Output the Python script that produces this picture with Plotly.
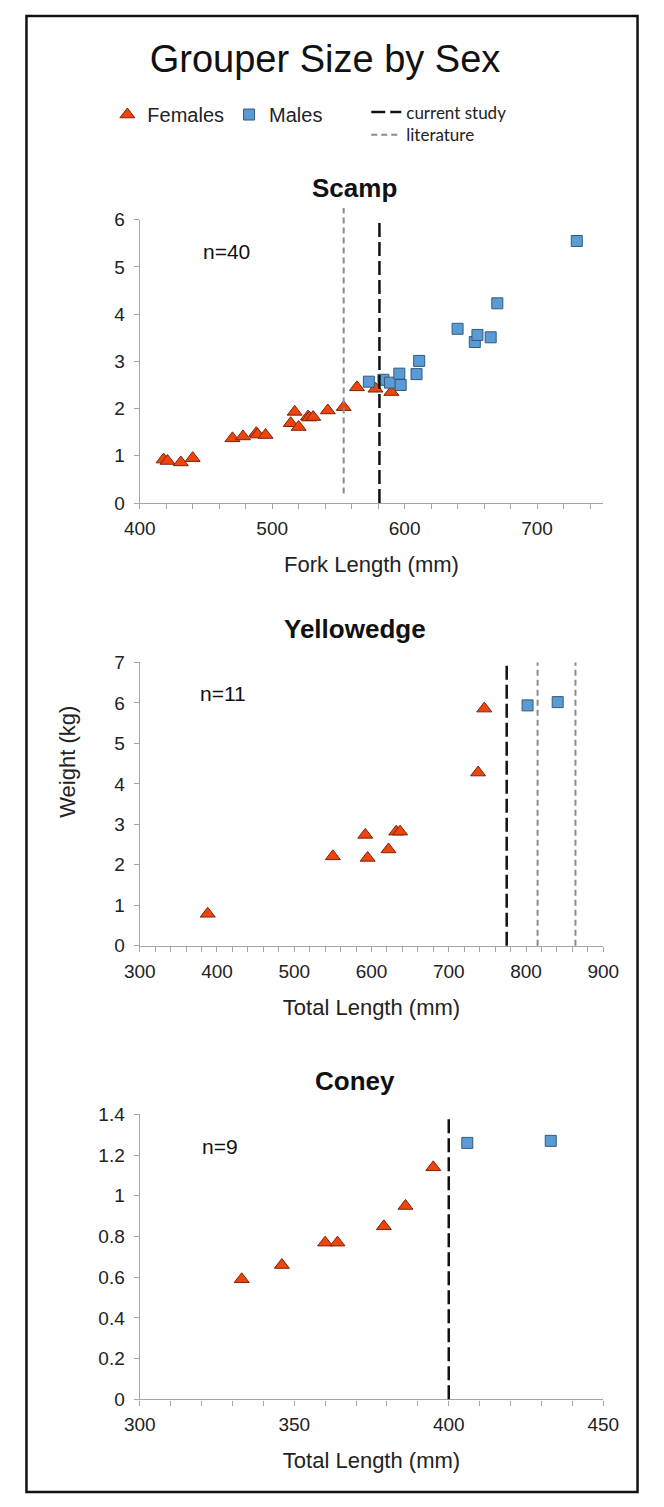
import plotly.graph_objects as go

# ---------------- data ----------------
main_title = "Grouper Size by Sex"
species = ["Scamp", "Yellowedge", "Coney"]
x_titles = ["Fork Length (mm)", "Total Length (mm)", "Total Length (mm)"]
y_title = "Weight (kg)"
n_labels = ["n=40", "n=11", "n=9"]

scamp_f_len = [418, 421, 431, 440, 470, 478, 488, 489, 495, 514, 517, 520, 527, 528, 531, 542, 554, 564, 578, 590]
scamp_f_wt = [0.92, 0.89, 0.86, 0.95, 1.37, 1.41, 1.48, 1.45, 1.44, 1.69, 1.93, 1.61, 1.83, 1.81, 1.82, 1.96, 2.03, 2.45, 2.42, 2.35]
scamp_m_len = [573, 584, 589, 596, 597, 609, 611, 640, 653, 655, 665, 670, 730]
scamp_m_wt = [2.57, 2.61, 2.55, 2.74, 2.50, 2.73, 3.01, 3.69, 3.41, 3.56, 3.51, 4.23, 5.55]

yellowedge_f_len = [388, 550, 592, 595, 622, 632, 637, 738, 746]
yellowedge_f_wt = [0.79, 2.21, 2.74, 2.17, 2.38, 2.82, 2.82, 4.28, 5.86]
yellowedge_m_len = [802, 841]
yellowedge_m_wt = [5.94, 6.02]

coney_f_len = [333, 346, 360, 364, 379, 386, 395]
coney_f_wt = [0.59, 0.66, 0.77, 0.77, 0.85, 0.95, 1.14]
coney_m_len = [406, 433]
coney_m_wt = [1.26, 1.27]

# size at sex change (mm)
current_study = [[581], [775], [400]]
literature = [[554], [815, 864], []]
# vertical extent of literature lines (kg)
literature_span = [[0.2, 6.25], [0, 7], [0, 0]]

x_ranges = [[400, 750], [300, 900], [300, 450]]
x_major = [100, 100, 50]
x_minor = [20, 20, 10]
y_ranges = [[0, 6], [0, 7], [0, 1.4]]
y_major = [1, 1, 0.2]

females = [(scamp_f_len, scamp_f_wt), (yellowedge_f_len, yellowedge_f_wt), (coney_f_len, coney_f_wt)]
males = [(scamp_m_len, scamp_m_wt), (yellowedge_m_len, yellowedge_m_wt), (coney_m_len, coney_m_wt)]

# ---------------- layout helpers ----------------
W, H = 664, 1507
FONT = "Liberation Sans, Arial, sans-serif"
LFONT = "Lato, Open Sans, sans-serif"

def px_x(p):
    return p / W

def px_y(p):
    return 1 - p / H

plot_left, plot_right = 130, 617
plot_tops = [212.7, 661.7, 1120]
plot_bottoms = [500, 949, 1409]
title_y = [181, 628, 1086]
n_pos = [(221, 245), (217, 693), (214, 1153)]

F_COLOR = "#F0440F"
F_LINE = "#7A2408"
M_COLOR = "#5B9BD5"
M_LINE = "#35597A"
AX_COLOR = "#A6A6A6"

fig = go.Figure()

for i in range(3):
    xa = "x" if i == 0 else f"x{i+1}"
    ya = "y" if i == 0 else f"y{i+1}"
    fx, fy = females[i]
    mx, my = males[i]
    fig.add_trace(go.Scatter(
        x=fx, y=fy, mode="markers", name="Females", xaxis=xa, yaxis=ya,
        legend="legend", showlegend=(i == 0), cliponaxis=False,
        marker=dict(symbol="triangle-up", size=13, color=F_COLOR,
                    line=dict(color=F_LINE, width=1))))
    fig.add_trace(go.Scatter(
        x=mx, y=my, mode="markers", name="Males", xaxis=xa, yaxis=ya,
        legend="legend", showlegend=(i == 0), cliponaxis=False,
        marker=dict(symbol="square", size=11, color=M_COLOR,
                    line=dict(color=M_LINE, width=1))))

    xkey = "xaxis" if i == 0 else f"xaxis{i+1}"
    ykey = "yaxis" if i == 0 else f"yaxis{i+1}"
    fig.update_layout({
        xkey: dict(
            domain=[px_x(plot_left), px_x(plot_right)], anchor=ya,
            range=x_ranges[i], dtick=x_major[i], tick0=x_ranges[i][0],
            showline=True, linecolor=AX_COLOR, linewidth=1.3,
            ticks="outside", ticklen=5, tickwidth=1.3, tickcolor=AX_COLOR,
            minor=dict(ticks="outside", ticklen=5, tickwidth=1.3, tickcolor=AX_COLOR,
                       dtick=x_minor[i], tick0=x_ranges[i][0], showgrid=False),
            showgrid=False, zeroline=False, ticklabelstandoff=3,
            tickfont=dict(size=19, color="#222", family=FONT),
            title=dict(text=x_titles[i], font=dict(size=22, color="#222", family=FONT), standoff=18),
        ),
        ykey: dict(
            domain=[px_y(plot_bottoms[i]), px_y(plot_tops[i])], anchor=xa,
            range=y_ranges[i], dtick=y_major[i], tick0=0,
            showline=True, linecolor=AX_COLOR, linewidth=1.3,
            ticks="outside", ticklen=5, tickwidth=1.3, tickcolor=AX_COLOR,
            showgrid=False, zeroline=False, ticklabelstandoff=5,
            tickfont=dict(size=19, color="#222", family=FONT),
        ),
    })

    for v in current_study[i]:
        fig.add_shape(type="line", xref=xa, yref=f"{ya} domain", x0=v, x1=v, y0=0, y1=1,
                      line=dict(color="#111111", width=2.5, dash="14px,5px"),
                      name="current study", legend="legend2", showlegend=(i == 0))
    for v in literature[i]:
        lo, hi = literature_span[i]
        span = y_ranges[i][1] - y_ranges[i][0]
        fig.add_shape(type="line", xref=xa, yref=f"{ya} domain", x0=v, x1=v,
                      y0=lo / span, y1=hi / span,
                      line=dict(color="#8C8C8C", width=2, dash="6px,4px"),
                      name="literature", legend="legend3", showlegend=(i == 0))

    fig.add_annotation(text=f"<b>{species[i]}</b>", xref="paper", yref="paper",
                       x=px_x(356), y=px_y(title_y[i]), xanchor="center", yanchor="middle",
                       showarrow=False, font=dict(size=26, color="#111", family=FONT))
    fig.add_annotation(text=n_labels[i], xref="paper", yref="paper",
                       x=px_x(n_pos[i][0]), y=px_y(n_pos[i][1]), xanchor="center", yanchor="middle",
                       showarrow=False, font=dict(size=21, color="#111", family=FONT))

fig.add_annotation(text=y_title, xref="paper", yref="paper", x=px_x(54), y=px_y(762),
                   textangle=-90, showarrow=False, xanchor="center", yanchor="middle",
                   font=dict(size=22, color="#222", family=FONT))

# frame
fig.add_shape(type="rect", xref="paper", yref="paper", x0=px_x(11), x1=px_x(653),
              y0=px_y(1503), y1=px_y(6), line=dict(color="#111", width=2.5))

fig.update_layout(
    width=W, height=H, margin=dict(l=0, r=0, t=0, b=0),
    paper_bgcolor="white", plot_bgcolor="white",
    font=dict(family=FONT, color="#222"),
    title=dict(text=main_title, x=px_x(325), xanchor="center", y=px_y(49), yanchor="middle",
               yref="paper", font=dict(size=38, color="#111", family=FONT)),
    legend=dict(orientation="h", x=px_x(96), xanchor="left", y=px_y(106), yanchor="middle",
                font=dict(size=20, color="#222", family=FONT), bgcolor="rgba(0,0,0,0)",
                itemwidth=30, tracegroupgap=0),
    legend2=dict(orientation="h", x=px_x(368), xanchor="left", y=px_y(104), yanchor="middle",
                 font=dict(size=17, color="#222", family=LFONT),
                 bgcolor="rgba(0,0,0,0)", itemwidth=30),
    legend3=dict(orientation="h", x=px_x(368), xanchor="left", y=px_y(127), yanchor="middle",
                 font=dict(size=17, color="#222", family=LFONT),
                 bgcolor="rgba(0,0,0,0)", itemwidth=30),
)

fig.write_html("out.html", config={"displayModeBar": False},
               post_script="document.body.style.margin='0';document.body.style.overflow='hidden';")
